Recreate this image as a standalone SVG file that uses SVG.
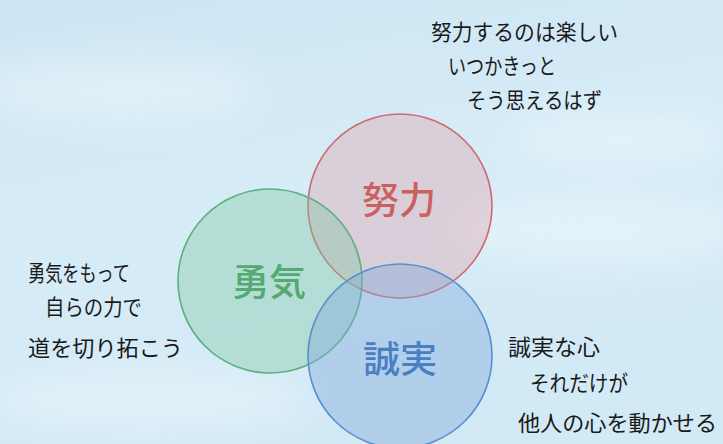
<svg xmlns="http://www.w3.org/2000/svg" width="723" height="444" viewBox="0 0 723 444">
<style>
.note{font-family:"Noto Sans CJK JP","Noto Sans",sans-serif;font-size:22px;fill:#1a1a1a;}
.lbl{font-family:"Noto Sans CJK JP","Noto Sans",sans-serif;font-size:37px;font-weight:500;text-anchor:middle;}
.c{stroke-width:1.6;}
</style>
<defs>
<linearGradient id="sky" x1="0" y1="0" x2="0.3" y2="1">
<stop offset="0" stop-color="#cde5f3"/>
<stop offset="0.5" stop-color="#d6ecf7"/>
<stop offset="1" stop-color="#d2e9f6"/>
</linearGradient>
<filter id="blur" x="-50%" y="-50%" width="200%" height="200%"><feGaussianBlur stdDeviation="18"/></filter>
</defs>
<rect width="723" height="444" fill="url(#sky)"/>
<g filter="url(#blur)" fill="#ffffff" opacity="0.35">
<ellipse cx="120" cy="90" rx="140" ry="30"/>
<ellipse cx="600" cy="230" rx="150" ry="35"/>
<ellipse cx="150" cy="400" rx="160" ry="30"/>
<ellipse cx="620" cy="140" rx="110" ry="25"/>
</g>
<g id="connectors"></g>
<g id="node-effort">
<circle class="c" cx="400" cy="206" r="92" fill="#e0a0a8" fill-opacity="0.38" stroke="#d0686f"/>
<text class="lbl" x="399" y="214" fill="#cc5f60">努力</text>
</g>
<g id="node-courage">
<circle class="c" cx="270" cy="281" r="92" fill="#7fc9a0" fill-opacity="0.38" stroke="#5ab07e"/>
<text class="lbl" x="269" y="296" fill="#55aa72">勇気</text>
</g>
<g id="node-sincerity">
<circle class="c" cx="400" cy="356" r="92" fill="#80a8dd" fill-opacity="0.4" stroke="#5a8fcc"/>
<text class="lbl" x="400" y="373" fill="#4a7fc2">誠実</text>
</g>
<g id="note-effort">
<text class="note" x="431" y="40" textLength="187" lengthAdjust="spacingAndGlyphs">努力するのは楽しい</text>
<text class="note" x="448" y="74" textLength="108" lengthAdjust="spacingAndGlyphs">いつかきっと</text>
<text class="note" x="467" y="108" textLength="135" lengthAdjust="spacingAndGlyphs">そう思えるはず</text>
</g>
<g id="note-courage">
<text class="note" x="28" y="281" textLength="102" lengthAdjust="spacingAndGlyphs">勇気をもって</text>
<text class="note" x="45" y="315" textLength="97" lengthAdjust="spacingAndGlyphs">自らの力で</text>
<text class="note" x="28" y="356" textLength="155" lengthAdjust="spacingAndGlyphs">道を切り拓こう</text>
</g>
<g id="note-sincerity">
<text class="note" x="508" y="355" textLength="92" lengthAdjust="spacingAndGlyphs">誠実な心</text>
<text class="note" x="530" y="391" textLength="98" lengthAdjust="spacingAndGlyphs">それだけが</text>
<text class="note" x="518" y="431" textLength="199" lengthAdjust="spacingAndGlyphs">他人の心を動かせる</text>
</g>
</svg>
